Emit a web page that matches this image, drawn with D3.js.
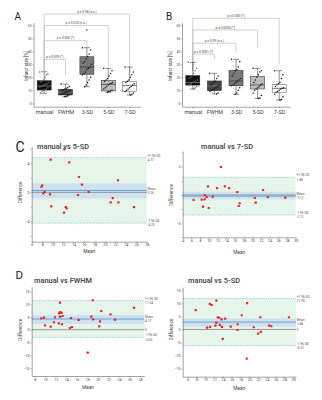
<!DOCTYPE html>
<html><head><meta charset="utf-8">
<script src="https://cdn.jsdelivr.net/npm/d3@7"></script>
<style>body{margin:0;background:#fff}svg{display:block}text{font-family:Roboto,"Liberation Sans",Arial,sans-serif}</style>
</head><body><svg id="c" width="322" height="400"></svg>
<script>
// ---------- DATA ----------
const categories = ["manual","FWHM","3-SD","5-SD","7-SD"];
const boxFills = ["#111111","#454545","#7a7a7a","#bdbdbd","#ffffff"];
const yTicksBox = [0,10,20,30,40,50,60];

// Panel A box statistics
const A_whiskerLow  = [7.7, 5.1, 12.8, 8.5, 6.4];
const A_q1          = [10.2, 6.4, 22.3, 9.5, 8.9];
const A_median      = [13.3, 8.5, 27.9, 14.6, 13.6];
const A_q3          = [17.4, 10.8, 35.8, 17.7, 16.9];
const A_whiskerHigh = [24.3, 14.8, 42.8, 26.9, 27.9];
const A_outliers    = [[], [], [56.4], [], []];
const A_pts_manual = [24,22.5,22,20,18,17,16.5,16,15,14.5,14,13.5,13,12.5,12,11,10.5,10,9,8];
const A_pts_FWHM   = [14.8,13,12,11.5,11,10.5,10,9.5,9,8.8,8.5,8,7.5,7,6.5,6,5.5,5.1];
const A_pts_3SD    = [42.8,41,38,36,34,32,31,30,28,27,26,24,23,22,20,18,16,14,12.8];
const A_pts_5SD    = [26.9,25,23,21,19,18,17,16,15.5,15,14,13,12,11,10,9.5,9,8.5];
const A_pts_7SD    = [27.9,24,22,20,18,17,16,15,14,13,12,11,10,9,8,7,6.4];
const A_brk_to     = ["FWHM","3-SD","5-SD","7-SD"];
const A_brk_level  = [33.8, 48.2, 59.8, 68.7];
const A_brk_rightEnd = [21.2, 43.5, 28.2, 21.8];
const A_brk_label  = ["p = 0.009 (*)","p = 0.000 (*)","p = 0.320 (n.s.)","p = 0.98 (n.s.)"];

// Panel B box statistics
const B_whiskerLow  = [11.0, 7.2, 6.9, 3.8, 2.5];
const B_q1          = [14.0, 9.7, 13.5, 11.0, 8.5];
const B_median      = [16.0, 13.3, 17.2, 14.1, 11.5];
const B_q3          = [21.3, 17.2, 25.4, 20.8, 14.6];
const B_whiskerHigh = [31.5, 23.1, 33.8, 26.9, 25.1];
const B_outliers    = [[], [], [], [], []];
const B_pts_manual = [31.5,27,25,23,21,20,19,18,17,16.5,16,15,14.5,14,13,12,11];
const B_pts_FWHM   = [23.1,21,19,17,16,15,14,13.5,13,12,11,10.5,10,9,8,7.2];
const B_pts_3SD    = [33.8,32,28,26,25,23,21,19,18,17,16,15,14,13.5,12,10,8,6.9];
const B_pts_5SD    = [26.9,25,24,22,20,18,16,15,14,13,12,11,10,8,6,4,3.8];
const B_pts_7SD    = [25.1,22,19,16,15,14,13,12,11.5,11,10,9,8.5,7,5,3,2.5];
const B_brk_to     = ["FWHM","3-SD","5-SD","7-SD"];
const B_brk_level  = [37.9, 46.2, 56.4, 65.4];
const B_brk_rightEnd = [34.1, 39.5, 42.8, 30.0];
const B_brk_label  = ["p = 0.0001 (*)","p = 0.09 (n.s.)","p = 0.0000 (*)","p = 0.000 (*)"];

// Bland-Altman C: manual vs 5-SD
const C1_mean = [12.24,9.63,13.2,15.05,15.62,22.5,8.03,7.84,8.49,8.22,9.5,16.9,14.86,21.5,21.1,22.6,9.75,12.5,12.7,25.57,12.18];
const C1_diff = [5.93,4.50,4.14,2.11,1.05,1.65,0.97,0.77,0.04,-0.14,-0.28,0.04,-0.37,-0.79,-1.38,-1.38,-1.93,-2.03,-2.21,-2.03,-2.81];
const C1_stats = [4.77, 0.26, -4.25];   // +1.96SD, mean, -1.96SD
const C1_ci = [1.24, -0.83];
const C1_xticks = [6,8,10,12,14,16,18,20,22,24,26,28];
const C1_yticks = [-6,-4,-2,0,2,4,6];
const C1_ylabels = [-4,0,4];

// Bland-Altman C: manual vs 7-SD
const C2_mean = [12.8,9.82,11.9,13.7,14.7,16.56,22.5,9.06,9.5,10.9,23.6,27.6,20.6,6.5,8.37,9.06,20.8,17.1,16.9,8.67,9.98];
const C2_diff = [2.97,0.92,0.74,0.92,0.74,0.32,0.53,0.0,-0.21,-0.18,-0.21,-0.28,-0.32,-0.53,-0.49,-0.46,-0.81,-0.88,-1.17,-1.24,-1.38];
const C2_stats = [1.88, -0.12, -2.12];
const C2_ci = [0.35, -0.46];
const C2_xticks = [4,6,8,10,12,14,16,18,20,22,24,26,28,30];
const C2_yticks = [-4.5,-3,-1.5,0,1.5,3,4.5];
const C2_ylabels = [-3,3];

// Bland-Altman D: manual vs FWHM
const D1_mean = [19.02,12.8,26.86,20.65,22.4,12.86,13.13,12.6,13.3,12.8,11.86,18.75,9.77,9.25,14.9,19.1,16.35,23.25,20.4,11.66,12.6,13.2,9.96,20.27,11.04,15.08,14.7,18.07];
const D1_diff = [11.5,10.55,8.6,7.3,6.0,6.9,6.6,6.4,5.35,5.1,4.84,5.1,4.7,4.45,4.57,4.06,3.8,3.9,3.28,2.9,2.5,2.1,1.7,1.3,1.2,1.05,0.66,-9.0];
const D1_stats = [11.34, 4.17, -3.00];
const D1_ci = [5.74, 2.23];
const D1_xticks = [8,10,12,14,16,18,20,22,24,26,28];
const D1_yticks = [-15,-10,-5,0,5,10,15];

// Bland-Altman D: manual vs 5-SD
const D2_mean = [12.5,7.8,11.0,11.45,19.5,18.27,12.8,13.18,29.0,22.5,13.7,14.5,12.5,12.3,13.3,13.8,11.1,10.4,15.77,17.36,17.3,21.0,24.5,25.0,22.6,22.0,13.95,19.4];
const D2_diff = [11.1,7.4,9.8,9.4,10.1,5.46,4.7,4.5,4.7,4.7,3.9,4.15,2.6,1.46,1.73,0.96,0.96,0.7,1.08,2.0,-0.2,0.85,1.46,1.23,-0.96,-1.6,-3.65,-11.2];
const D2_stats = [11.90, 2.84, -6.22];
const D2_ci = [4.3, 1.1];
const D2_xticks = [6,8,10,12,14,16,18,20,22,24,26,28,30];
const D2_yticks = [-15,-10,-5,0,5,10,15];

// ---------- DRAWING ----------
const svg = d3.select("#c");

function styleAxis(s, fs){
  s.select(".domain").attr("stroke","#666").attr("stroke-width",0.6);
  s.selectAll(".tick line").attr("stroke","#666").attr("stroke-width",0.5);
  s.selectAll("text").attr("font-size",fs).attr("fill","#444").attr("font-family","Roboto, Arial, sans-serif");
}

function boxPanel(o){
  const g = svg.append("g");
  const x = d3.scalePoint().domain(categories).range(o.xr).padding(0.5);
  const y = d3.scaleLinear().domain([-2.6, 62]).range([106.7, 22.7]);
  g.append("g").attr("transform",`translate(${o.xr[0]},0)`)
    .call(d3.axisLeft(y).tickValues(yTicksBox).tickSize(1.2).tickSizeOuter(0).tickPadding(0.8))
    .call(s=>styleAxis(s,3.2));
  g.append("g").attr("transform",`translate(0,${y(-2.6)})`)
    .call(d3.axisBottom(x).tickSize(1.5).tickSizeOuter(0).tickPadding(2))
    .call(s=>styleAxis(s,5.4));
  g.append("text").attr("transform",`translate(${o.ylabX},66) rotate(-90)`)
    .attr("text-anchor","middle").attr("font-size",4.6).attr("fill","#333").text("Infarct size [%]");
  g.append("text").attr("x",o.letterX).attr("y",20).attr("font-size",10).attr("fill","#222").text(o.letter);

  // brackets
  const x0 = x("manual");
  o.brTo.forEach((c,i)=>{
    const xl = x0, xr = x(c), yl = y(o.brLevel[i]);
    g.append("path").attr("d",`M${xl},${y(25)}V${yl}H${xr}V${y(o.brRight[i])}`)
      .attr("fill","none").attr("stroke","#bdbdbd").attr("stroke-width",0.7);
    g.append("text").attr("x",(xl+xr)/2).attr("y",yl-1.2).attr("text-anchor","middle")
      .attr("font-size",3.2).attr("fill","#444").text(o.brLabel[i]);
  });

  const bw = 14;
  categories.forEach((c,i)=>{
    const cx = x(c);
    const sk = "#222";
    g.append("line").attr("x1",cx).attr("x2",cx).attr("y1",y(o.wl[i])).attr("y2",y(o.q1[i])).attr("stroke",sk).attr("stroke-width",0.5);
    g.append("line").attr("x1",cx).attr("x2",cx).attr("y1",y(o.q3[i])).attr("y2",y(o.wh[i])).attr("stroke",sk).attr("stroke-width",0.5);
    [o.wl[i],o.wh[i]].forEach(v=>g.append("line").attr("x1",cx-3).attr("x2",cx+3).attr("y1",y(v)).attr("y2",y(v)).attr("stroke",sk).attr("stroke-width",0.5));
    g.append("rect").attr("x",cx-bw/2).attr("width",bw).attr("y",y(o.q3[i])).attr("height",y(o.q1[i])-y(o.q3[i]))
      .attr("fill",boxFills[i]).attr("stroke",i===4?"#555":"#222").attr("stroke-width",0.5);
    g.append("line").attr("x1",cx-bw/2).attr("x2",cx+bw/2).attr("y1",y(o.med[i])).attr("y2",y(o.med[i]))
      .attr("stroke",i<2?"#999":"#222").attr("stroke-width",0.6);
    o.pts[i].forEach((v,j)=>{
      const off = (((j*37)%13)-6)/6*4.5;
      g.append("circle").attr("cx",cx+off).attr("cy",y(v)).attr("r",0.75).attr("fill",i===0?"#666":"#111");
    });
    o.out[i].forEach(v=>g.append("circle").attr("cx",cx).attr("cy",y(v)).attr("r",0.7).attr("fill","#222"));
  });
}

boxPanel({xr:[33.5,140.3], ylabX:28, letter:"A", letterX:14.5,
  wl:A_whiskerLow,q1:A_q1,med:A_median,q3:A_q3,wh:A_whiskerHigh,out:A_outliers,
  pts:[A_pts_manual,A_pts_FWHM,A_pts_3SD,A_pts_5SD,A_pts_7SD],
  brTo:A_brk_to,brLevel:A_brk_level,brRight:A_brk_rightEnd,brLabel:A_brk_label});
boxPanel({xr:[182,290], ylabX:172, letter:"B", letterX:166,
  wl:B_whiskerLow,q1:B_q1,med:B_median,q3:B_q3,wh:B_whiskerHigh,out:B_outliers,
  pts:[B_pts_manual,B_pts_FWHM,B_pts_3SD,B_pts_5SD,B_pts_7SD],
  brTo:B_brk_to,brLevel:B_brk_level,brRight:B_brk_rightEnd,brLabel:B_brk_label});

function baPanel(o){
  const g = svg.append("g");
  const x = d3.scaleLinear().domain(o.xd).range(o.xr);
  const y = d3.scaleLinear().domain(o.yd).range(o.yr);
  const [up, mn, lo] = o.stats;
  const w = o.xr[1]-o.xr[0];
  g.append("rect").attr("x",o.xr[0]).attr("width",w).attr("y",y(up)).attr("height",y(lo)-y(up)).attr("fill","#e6f5ea");
  g.append("rect").attr("x",o.xr[0]).attr("width",w).attr("y",y(o.ci[0])).attr("height",y(o.ci[1])-y(o.ci[0])).attr("fill","#cde1f1");
  g.append("line").attr("x1",o.xr[0]).attr("x2",o.xr[1]).attr("y1",y(0)).attr("y2",y(0)).attr("stroke","#8a8a8a").attr("stroke-width",0.9);
  g.append("line").attr("x1",o.xr[0]).attr("x2",o.xr[1]).attr("y1",y(mn)).attr("y2",y(mn)).attr("stroke","#5b9bd5").attr("stroke-width",0.9);
  [up,lo].forEach(v=>g.append("line").attr("x1",o.xr[0]).attr("x2",o.xr[1]).attr("y1",y(v)).attr("y2",y(v))
    .attr("stroke","#8fc4ea").attr("stroke-width",0.8).attr("stroke-dasharray","1.4,0.9"));
  // axes
  g.append("g").attr("transform",`translate(${o.xr[0]},0)`)
    .call(d3.axisLeft(y).tickValues(o.yticks).tickSize(1.2).tickSizeOuter(0).tickPadding(1)
      .tickFormat(d=> o.ylabels ? (o.ylabels.includes(d)?d3.format("d")(d):"") : d3.format("d")(d)))
    .call(s=>styleAxis(s,3.6));
  g.append("g").attr("transform",`translate(0,${o.yr[0]})`)
    .call(d3.axisBottom(x).tickValues(o.xticks).tickSize(1.2).tickSizeOuter(0).tickPadding(0.9))
    .call(s=>styleAxis(s,3.6));
  g.append("text").attr("x",(o.xr[0]+o.xr[1])/2).attr("y",o.meanLabY).attr("text-anchor","middle")
    .attr("font-size",4.8).attr("fill","#444").text("Mean");
  g.append("text").attr("transform",`translate(${o.xr[0]-9.5},${y(0)}) rotate(-90)`).attr("text-anchor","middle")
    .attr("font-size",4.8).attr("fill","#444").text("Difference");
  // points
  o.mx.forEach((m,i)=>g.append("rect").attr("x",x(m)-1.1).attr("y",y(o.dy[i])-1.1).attr("width",2.2).attr("height",2.2)
    .attr("rx",0.6).attr("fill","#ee1c1c"));
  // right labels
  const lx = o.xr[1]+0.8, fs = 3.2;
  const lab = (t,yy)=>g.append("text").attr("x",lx).attr("y",yy).attr("font-size",fs).attr("fill","#555").text(t);
  lab("+1.96 SD", y(up)-0.9); lab(up.toFixed(2), y(up)+3.3);
  lab("Mean", y(mn)-0.9); lab(mn.toFixed(2), y(mn)+3.3);
  lab("-1.96 SD", y(lo)-0.9); lab(lo.toFixed(2), y(lo)+3.3);
  if (o.zeroLab) lab("0", y(0)+1.2);
  g.append("text").attr("x",o.titleX).attr("y",o.titleY).attr("font-size",7.4).attr("font-weight",600).attr("fill","#4a4a4a").text(o.title);
  if (o.letter) g.append("text").attr("x",o.letterX).attr("y",o.letterY).attr("font-size",o.letterFs).attr("fill","#222").text(o.letter);
}

baPanel({xd:[6,28], xr:[31.7,146.7], yd:[-6.81,6.29], yr:[241.7,146.7],
  stats:C1_stats, ci:C1_ci, xticks:C1_xticks, yticks:C1_yticks, ylabels:C1_ylabels,
  mx:C1_mean, dy:C1_diff, meanLabY:252.5, title:"manual vs 5-SD", titleX:37, titleY:148.5,
  letter:"C", letterX:15.5, letterY:152, letterFs:14});
baPanel({xd:[4,30], xr:[182.7,295.7], yd:[-4.49,4.67], yr:[237.3,151],
  stats:C2_stats, ci:C2_ci, xticks:C2_xticks, yticks:C2_yticks, ylabels:C2_ylabels,
  mx:C2_mean, dy:C2_diff, meanLabY:254, title:"manual vs 7-SD", titleX:201, titleY:148.5});
baPanel({xd:[7.43,28.82], xr:[31.7,144.3], yd:[-18.1,16.8], yr:[376,286.7],
  stats:D1_stats, ci:D1_ci, xticks:D1_xticks, yticks:D1_yticks, zeroLab:true,
  mx:D1_mean, dy:D1_diff, meanLabY:389, title:"manual vs FWHM", titleX:34, titleY:283,
  letter:"D", letterX:15.5, letterY:278.5, letterFs:11.5});
baPanel({xd:[4.86,30.6], xr:[182.7,296], yd:[-18.15,16.2], yr:[376.7,287.3],
  stats:D2_stats, ci:D2_ci, xticks:D2_xticks, yticks:D2_yticks, zeroLab:true,
  mx:D2_mean, dy:D2_diff, meanLabY:390, title:"manual vs 5-SD", titleX:188, titleY:283});
</script></body></html>
